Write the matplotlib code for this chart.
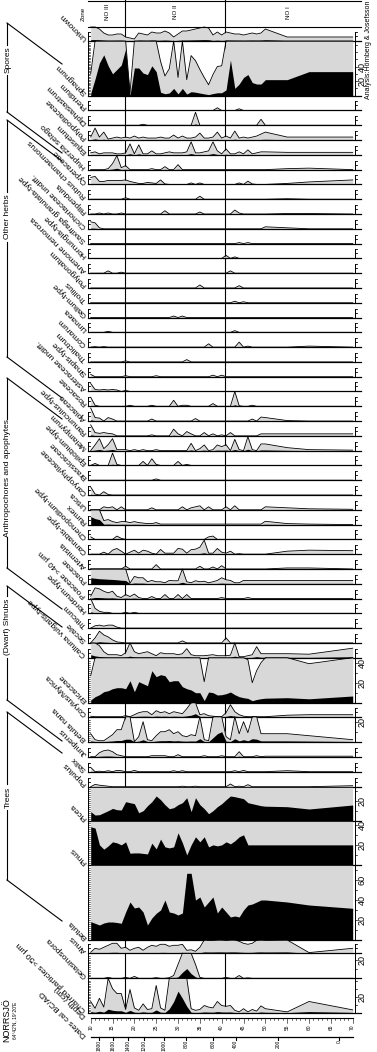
import numpy as np
import matplotlib.pyplot as plt
from matplotlib.lines import Line2D

plt.rcParams['font.family'] = ['Liberation Sans', 'DejaVu Sans']

W, H = 377, 1052
X0, X1 = 90.7, 352.7  # depth 10 .. 70

depths = [10, 11, 12, 13, 14, 15, 16, 17, 18, 19, 20, 21, 22, 23, 24, 25, 26, 27, 28, 29,
          30, 31, 32, 33, 34, 35, 36, 37, 38, 39, 40, 41, 42, 43, 44, 45, 46, 47, 48, 49,
          50, 55, 60, 70]

unknown = [1.4, 1.4, 1.2, 0.8, 0.6, 0.6, 0.7, 0.7, 0.4, 0.3, 0.2, 0.8, 0.7, 0.6, 0.9, 0.8, 0.8, 1.0, 0.8, 0.4,
           0.7, 1.0, 1.0, 1.1, 1.2, 1.3, 1.4, 1.3, 0.6, 0.9, 0.6, 0.9, 0.8, 0.7, 0.7, 0.6, 0.7, 0.8, 0.7, 0.8,
           1.2, 0.4, 0.4, 0.4]
sphagnum = [3, 23, 45, 56, 41, 30, 36, 42, 64, 0.4, 38, 38, 31, 29, 41, 33, 4.7, 2.7, 3.7, 10,
            2.5, 10, 2.2, 5.5, 4.8, 3.6, 2.5, 1.5, 2.9, 4.0, 4.1, 8, 49, 10, 16, 25, 29, 18, 16, 16,
            22, 22, 33, 33]

# sparse taxa: {depth: percent}
pteridium = {39: 0.27, 44: 0.17}
diphasiastrum = {22: 0.1, 34: 1.3, 49: 0.6}
polypodiaceae = {10: 0.3, 11: 1.2, 12: 0.3, 13: 0.8, 14: 0.1, 15: 0.2, 16: 0.3, 17: 0.2, 18: 0.3, 19: 0.2,
                 20: 0.4, 21: 0.2, 22: 0.3, 23: 0.2, 24: 0.2, 25: 0.2, 26: 0.3, 27: 0.2, 28: 0.2, 29: 0.5,
                 30: 0.2, 31: 0.4, 32: 0.2, 33: 0.2, 34: 0.3, 35: 0.7, 36: 0.2, 37: 0.2, 38: 0.3, 39: 0.8,
                 40: 0.2, 41: 0.4, 42: 0.2, 43: 0.9, 44: 0.2, 45: 0.3, 46: 0.2, 47: 0.3, 48: 0.4, 49: 0.6,
                 50: 0.8, 55: 0.3, 60: 0.3, 70: 0.3}
equisetum = {10: 0.2, 11: 0.3, 12: 0.1, 13: 0.2, 14: 0.2, 15: 0.2, 16: 0.1, 17: 0.1, 18: 0.2, 19: 1.1,
             20: 0.1, 21: 1.0, 22: 0.1, 23: 0.1, 24: 0.4, 25: 0.1, 26: 0.1, 27: 0.2, 28: 0.3, 29: 0.2,
             30: 0.2, 31: 0.2, 32: 0.3, 33: 1.3, 34: 0.2, 35: 0.2, 36: 0.3, 37: 0.4, 38: 1.3, 39: 0.4,
             40: 0.1, 41: 0.6, 42: 0.1, 43: 0.1, 44: 0.3, 45: 0.1, 46: 0.5, 47: 0.1, 48: 0.2, 49: 0.3,
             50: 0.3, 55: 0.25, 60: 0.25, 70: 0.25}
huperzia = {14: 0.1, 15: 0.6, 16: 1.4, 17: 0.2, 18: 0.4, 24: 0.1, 27: 0.3, 30: 0.5, 55: 0.1, 60: 0.15}
cyperaceae = {10: 0.7, 11: 0.8, 12: 0.3, 13: 0.3, 14: 0.4, 15: 0.4, 16: 0.4, 17: 0.4, 18: 0.45, 19: 0.3,
              20: 0.2, 21: 0.1, 22: 0.1, 23: 0.2, 24: 0.15, 25: 0.1, 26: 0.45, 27: 0.05, 33: 0.15, 35: 0.15,
              44: 0.15, 46: 0.33, 47: 0.05, 55: 0.1, 60: 0.25, 70: 0.45}
rubus = {18: 0.15, 35: 0.3, 55: 0.05}
filipendula = {12: 0.1, 14: 0.1, 17: 0.1, 27: 0.33, 35: 0.2, 43: 0.4, 44: 0.1, 55: 0.05, 60: 0.05}
cichoriaceae = {10: 0.7, 11: 0.6, 12: 0.1, 50: 0.2, 55: 0.1}
saxifraga = {44: 0.1, 46: 0.1}
hornungia = {41: 0.3, 43: 0.15}
anemone = {14: 0.23, 17: 0.1, 42: 0.23}
polygonatum = {35: 0.3, 44: 0.23}
trollius = {43: 0.15, 45: 0.1}
galium = {29: 0.15, 31: 0.15}
linnaea = {14: 0.1, 43: 0.17}
comarum = {11: 0.05, 13: 0.05, 37: 0.33, 44: 0.5, 46: 0.1, 60: 0.1}
thalictrum = {18: 0.1, 32: 0.23}
sinapis = {10: 0.23, 18: 0.1, 25: 0.1, 38: 0.15, 40: 0.15}
asteraceae = {10: 0.8, 11: 0.2, 12: 0.15, 13: 0.2, 14: 0.15, 15: 0.2, 16: 0.15, 18: 0.1}
rosaceae = {10: 0.9, 11: 0.1, 19: 0.1, 24: 0.1, 29: 0.6, 31: 0.1, 32: 0.1, 38: 0.27, 43: 1.5, 44: 0.05, 47: 0.1}
apiaceae = {10: 1.3, 11: 0.35, 12: 0.3, 14: 0.35, 15: 0.2, 24: 0.2, 34: 0.25, 47: 0.2, 49: 0.4, 50: 0.35, 55: 0.05}
ranunculus = {10: 1.1, 11: 0.33, 12: 0.25, 13: 0.33, 14: 0.25, 15: 0.2, 24: 0.1, 29: 0.67, 30: 0.2, 32: 0.43,
              33: 0.2, 36: 0.33, 38: 0.2, 40: 0.1, 42: 0.33, 49: 0.2, 50: 0.2, 55: 0.2, 60: 0.2, 70: 0.2}
melampyrum = {11: 0.57, 12: 1.2, 13: 0.2, 14: 0.6, 15: 1.2, 16: 0.1, 17: 0.1, 18: 0.1, 20: 0.1, 22: 0.1,
              25: 0.1, 33: 0.73, 35: 0.2, 36: 0.57, 38: 0.1, 39: 0.57, 40: 0.4, 41: 0.6, 43: 1.13, 44: 0.1,
              46: 1.4, 47: 0.1, 49: 0.67, 50: 0.67, 55: 0.3, 60: 0.1, 70: 0.05}
epilobium = {11: 0.2, 15: 1.23, 16: 0.1, 22: 0.4, 24: 0.67, 25: 0.1, 30: 0.4, 32: 0.1}
brassicaceae = {25: 0.13}
caryophyllaceae = {10: 0.8, 11: 0.1, 13: 0.33, 14: 0.05}
urtica = {13: 0.3, 14: 0.2, 15: 0.3, 17: 0.3, 24: 0.2, 31: 0.3, 33: 0.2, 34: 0.3, 35: 0.4, 37: 0.3,
          41: 0.3, 43: 0.4, 50: 0.3, 55: 0.2, 60: 0.1, 70: 0.05}
rumex = [8, 6, 5, 0.4, 0.5, 0.3, 0.2, 0.3, 0.3, 0.2, 0.3, 0.2, 0.15, 0.1, 0.1, 0.2, 0.05, 0.05, 0.05, 0.05,
         0.05, 0.05, 0.05, 0.05, 0.05, 0.05, 0.05, 0.05, 0.05, 0.05, 0.05, 0.05, 0.05, 0.05, 0.05, 0.05,
         0.05, 0.05, 0.05, 0.05, 0.33, 0.1, 0.05, 0.0]
chenopodium = {10: 0.25, 16: 0.33, 17: 0.1, 37: 0.25, 38: 0.33}
cannabis = {13: 0.2, 15: 0.4, 16: 0.57, 17: 0.3, 19: 0.2, 20: 0.4, 21: 0.1, 22: 0.4, 23: 0.3, 24: 0.1,
            26: 0.47, 27: 0.1, 28: 0.1, 29: 0.1, 30: 0.57, 31: 0.5, 32: 0.1, 33: 0.45, 34: 0.5, 35: 0.7,
            36: 1.4, 37: 0.1, 38: 0.1, 39: 0.57, 40: 0.2, 41: 0.1, 42: 0.3, 44: 0.05, 55: 0.3, 60: 0.4, 70: 0.35}
artemisia = {18: 0.27, 25: 0.43, 35: 0.27, 38: 0.2, 40: 0.33, 55: 0.1, 60: 0.1}
poaceae = [6, 5.5, 5, 4.8, 4.5, 4.3, 4.0, 3.5, 3.3, 0.05, 0.73, 0.6, 0.6, 0.2, 0.33, 0.2, 0.2, 0.1, 0.33, 0.3,
           0.3, 1.5, 0.2, 0.1, 0.3, 0.2, 0.25, 0.1, 0.2, 0.33, 0.6, 0.4, 0.33, 0.1, 0.1, 0.33, 0.33, 0.33,
           0.33, 0.33, 0.33, 0.33, 0.33, 0.33]
poaceae40 = {10: 0.23, 11: 1.07, 12: 0.97, 13: 0.73, 14: 0.57, 15: 0.73, 16: 0.23, 17: 0.1, 18: 0.4, 19: 0.2,
             20: 0.45, 21: 0.1, 24: 0.2, 27: 0.4, 30: 0.4, 32: 0.4, 40: 0.1, 46: 0.1}
hordeum = {10: 1.5, 11: 0.5, 12: 0.2, 13: 0.1, 14: 0.1, 18: 0.1, 20: 0.1}
triticum = {11: 0.23, 12: 0.3, 13: 0.2, 14: 0.3, 15: 0.3, 16: 0.1}
secale = {11: 0.5, 12: 1.17, 13: 0.8, 14: 0.6, 15: 0.3, 16: 0.1, 17: 0.05, 31: 0.2, 41: 0.5}
calluna = [3, 1.8, 1.2, 0.6, 0.3, 0.3, 0.3, 0.2, 0.5, 1.6, 0.6, 0.4, 0.5, 0.6, 0.4, 0.2, 0.5, 0.4, 0.4, 0.4,
           0.3, 0.4, 0.9, 0.3, 0.2, 0.2, 0.2, 0.25, 0.3, 0.2, 0.2, 0.2, 0.25, 1.6, 0.1, 0.1, 0.2, 0.3, 1.1, 0.4,
           0.4, 0.4, 0.35, 0.95]
ericaceae = [2.7, 6, 8, 11, 12, 14, 15, 15, 14, 22, 11, 21, 19, 17, 32, 26, 28, 27, 21, 22,
             22, 16, 14, 12.7, 10, 10, 2.1, 10.7, 10, 7.7, 8, 9, 10.7, 8, 6, 5, 4.3, 2.0, 3.2, 4,
             4.5, 5, 3.9, 6.7]
corylus = {10: 0.05, 18: 0.1, 20: 0.2, 21: 0.4, 22: 0.5, 23: 0.5, 24: 0.2, 25: 0.6, 26: 0.4, 27: 0.5, 28: 0.3,
           29: 0.5, 30: 0.4, 31: 0.3, 32: 0.8, 33: 1.5, 34: 3, 35: 0.2, 36: 0.3, 37: 0.1, 38: 0.05, 41: 0.4,
           42: 1.2, 43: 0.5, 44: 0.2, 45: 0.05, 55: 0.15, 60: 0.2, 70: 0.2}
betula_nana = [0.8, 0.2, 0.1, 0.1, 0.4, 0.7, 1.2, 1.2, 2.5, 2.5, 0, 0.5, 2.0, 0.2, 0.1, 0.6, 1.0, 1.0, 1.2, 0.8,
               1.0, 0.6, 0.5, 0.7, 0.6, 3, 0.2, 0.1, 4, 8, 10, 0.5, 0.2, 3, 0.8, 2.0, 0.9, 3, 2.5, 0.8,
               0.8, 0.8, 0.6, 0.2]
juniperus = {12: 0.4, 13: 0.6, 14: 0.67, 15: 0.5, 16: 0.2, 17: 0.1, 24: 0.1, 25: 0.1, 26: 0.1, 27: 0.1,
             30: 0.2, 36: 0.1, 40: 0.1, 44: 0.5, 48: 0.1, 50: 0.05, 55: 0.05, 60: 0.05, 70: 0.05}
salix = {10: 0.43, 12: 0.05, 14: 0.1, 16: 0.13, 17: 0.1, 20: 0.13, 29: 0.1, 31: 0.1, 43: 0.1, 45: 0.13, 55: 0.1}
populus = {11: 0.23, 12: 0.15, 13: 0.1, 14: 0.05, 31: 0.05, 34: 0.05, 42: 0.27, 44: 0.05, 46: 0.2, 70: 0.1}
picea = [9, 5.7, 6, 8, 10, 12.3, 11, 10.7, 19, 18, 17, 8, 10, 15, 19, 24.7, 21, 16, 12, 13,
         16, 18, 23, 9, 23, 16, 12, 7, 10, 14, 17, 21, 24.7, 24, 23, 22, 18, 17, 16, 15,
         14.5, 14, 11.7, 15.7]
pinus = [38, 36.7, 20, 15.7, 19, 23, 22, 20, 23, 11.7, 12, 12, 11.5, 11, 21.7, 16, 25.7, 18, 17, 18,
         32, 22, 10, 20, 28, 23, 28, 18, 20, 19, 20, 23, 21, 24, 28, 30, 20, 20, 20, 20,
         20, 20, 20, 20]
betula = [18.3, 16.7, 15, 17, 18, 18, 17.5, 16.7, 28, 38, 32, 33, 28, 15, 22, 26.7, 30, 40, 28, 27,
          25, 27, 66.7, 66.7, 40, 43, 33, 38, 43, 27, 33, 28, 23, 24, 23, 30, 35, 36, 38, 40,
          40, 38, 35, 31.7]
alnus = [0.1, 0.5, 0.4, 0.6, 0.8, 1.0, 1.0, 0.5, 0.6, 0.3, 0.5, 0.6, 0.3, 0.6, 0.8, 0.7, 0.9, 0.9, 0.7, 0.8,
         0.8, 0.9, 0.3, 0.35, 0.2, 0.6, 1.4, 1.3, 1.3, 1.4, 1.4, 1.3, 1.4, 1.4, 1.2, 1.0, 0.9, 1.0, 1.3, 1.4,
         1.3, 1.4, 0.07, 0.5]
gelasinospora = {14: 0.1, 18: 0.1, 20: 0.2, 25: 0.07, 28: 0.07, 29: 0.3, 30: 1.5, 31: 6.5, 32: 10.5, 33: 5,
                 34: 1.5, 35: 0.1, 41: 0.1, 44: 0.3, 46: 0.05}
charred = [1.4, 0.55, 1.8, 0.7, 4.4, 3.0, 2.4, 2.4, 0.4, 2.9, 0.6, 0.3, 1.1, 0.4, 0.5, 3.4, 0.6, 0.3, 5.0, 14,
           27, 18, 8, 0.5, 0.3, 0.4, 0.9, 0.7, 0.6, 1.4, 0.9, 0.8, 0.9, 0.3, 0.1, 0.5, 0.1, 0.4, 0.2, 0.85,
           0.5, 0.1, 1.4, 0.35]

date_labels = ['1800', '1600', '1400', '1200', '1000', '800', '600', '400', '200', '0']
date_depths = [12.0, 15.2, 18.6, 22.2, 26.9, 31.8, 38.1, 43.2, 52.9, 66.9]
zone_bounds = [17.9, 40.8]
zone_names = ['NO III', 'NO II', 'NO I']

small_names = ['Pteridium', 'Diphasiastrum', 'Polypodiaceae', 'Equisetum', 'Huperzia selago', 'Cyperaceae',
               'Rubus chamaemorus', 'Filipendula', 'Cichoriaceae undiff.', 'Saxifraga granulata-type',
               'Hornungia-type', 'Anemone nemorosa', 'Polygonatum', 'Trollius', 'Galium-type', 'Linnaea',
               'Comarum', 'Thalictrum', 'Sinapis-type', 'Asteraceae undiff.', 'Rosaceae', 'Apiaceae',
               'Ranunculus-type', 'Melampyrum', 'Epilobium-type', 'Brassicaceae', 'Caryophyllaceae',
               'Urtica', 'Rumex', 'Chenopodium-type', 'Cannabis-type', 'Artemisia', 'Poaceae',
               'Poaceae >40 µm', 'Hordeum-type', 'Triticum', 'Secale', 'Calluna vulgaris-type']
small_data = [pteridium, diphasiastrum, polypodiaceae, equisetum, huperzia, cyperaceae, rubus, filipendula,
              cichoriaceae, saxifraga, hornungia, anemone, polygonatum, trollius, galium, linnaea, comarum,
              thalictrum, sinapis, asteraceae, rosaceae, apiaceae, ranunculus, melampyrum, epilobium,
              brassicaceae, caryophyllaceae, urtica, rumex, chenopodium, cannabis, artemisia, poaceae,
              poaceae40, hordeum, triticum, secale, calluna]

group_names = ['Spores', 'Other herbs', 'Anthropochores and apophytes', '(Dwarf) Shrubs', 'Trees']
group_spans = [(23, 112), (120, 357), (378, 568), (586, 700), (712, 880)]
group_centres = [60, 217, 478, 627, 797]


def as_array(d):
    if isinstance(d, dict):
        return np.array([d.get(x, 0.0) for x in depths])
    return np.array(d, dtype=float)


fig = plt.figure(figsize=(W / 100, H / 100), dpi=100)
fig.patch.set_facecolor('white')


def fline(xs, ys, lw=0.8):
    fig.add_artist(Line2D([x / W for x in xs], [1 - y / H for y in ys], color='k', lw=lw))


def ftext(x, y, s, **kw):
    fig.text(x / W, 1 - y / H, s, **kw)


def panel(top, bot, vals, vmax, label, ticks=None, exag=10):
    ax = fig.add_axes([X0 / W, 1 - bot / H, (X1 - X0) / W, (bot - top) / H])
    ax.set_xlim(10, 70)
    ax.set_ylim(0, vmax)
    ax.axis('off')
    v = as_array(vals)
    g = np.minimum(v * exag, vmax)
    for zb in zone_bounds:
        ax.axvline(zb, color='k', lw=0.8, zorder=1)
    ax.fill_between(depths, 0, g, color='#d8d8d8', lw=0, zorder=2)
    ax.plot(depths, g, color='k', lw=0.6, zorder=3, clip_on=False)
    ax.fill_between(depths, 0, np.minimum(v, vmax), color='k', lw=0, zorder=4)
    tr = ax.get_yaxis_transform()
    ax.plot([-0.012, 1.032], [0, 0], color='k', lw=0.9, transform=tr, clip_on=False, zorder=5)
    ph = bot - top
    pxu = ph / vmax
    if ticks is None:
        # small "F" marks
        for xf in (-0.01, 1.007):
            ax.plot([xf, xf], [1 / pxu, 9 / pxu], color='k', lw=0.7, transform=tr, clip_on=False, zorder=5)
            for yy in (9, 5):
                ax.plot([xf, xf + 0.008], [yy / pxu, yy / pxu], color='k', lw=0.6, transform=tr,
                        clip_on=False, zorder=5)
    else:
        top_v = vmax - 1 / pxu
        for xf in (-0.01, 1.007):
            ax.plot([xf, xf], [0, top_v], color='k', lw=0.7, transform=tr, clip_on=False, zorder=5)
        for yy in np.arange(2, top_v, 2):
            ax.plot([-0.01, -0.003], [yy, yy], color='k', lw=0.4, transform=tr, clip_on=False, zorder=5)
        for yy in np.arange(10, top_v, 10):
            ax.plot([1.007, 1.017], [yy, yy], color='k', lw=0.5, transform=tr, clip_on=False, zorder=5)
        for t in ticks:
            ax.text(1.035, t, str(t), transform=tr, rotation=90, ha='center', va='center', fontsize=6.5)
    ftext(86, bot - 2, label, rotation=135, rotation_mode='anchor', ha='left', va='center', fontsize=6)
    return ax


# zone row
zax = fig.add_axes([X0 / W, 1 - 27 / H, (X1 - X0) / W, 27 / H])
zax.set_xlim(10, 70)
zax.set_ylim(0, 1)
zax.axis('off')
for zb in zone_bounds:
    zax.axvline(zb, color='k', lw=0.8)
zone_edges = [10] + zone_bounds + [70]
for i, nm in enumerate(zone_names):
    zax.text((zone_edges[i] + zone_edges[i + 1]) / 2, 0.55, nm, rotation=90, ha='center', va='center', fontsize=4.5)
fline([88, 361], [0.5, 0.5])
fline([88, 361], [27, 27])
ftext(83, 14, 'Zone', rotation=90, ha='center', va='center', fontsize=4.5)

panel(27, 41, unknown, 14, 'Unknown')
panel(41, 95.7, sphagnum, 75, 'Sphagnum', ticks=[20, 40])
step = (657.7 - 95.7) / len(small_names)
for i, (nm, dd) in enumerate(zip(small_names, small_data)):
    t = 95.7 + i * step
    panel(t, t + step, dd, step, nm)
panel(657.7, 702.7, ericaceae, 45, 'Ericaceae', ticks=[20, 40])
panel(702.7, 716.7, corylus, 14, 'Corylus/Myrica')
panel(716.7, 741.7, betula_nana, 25, 'Betula nana', ticks=[20])
panel(741.7, 756.7, juniperus, 15, 'Juniperus')
panel(756.7, 771.7, salix, 15, 'Salix')
panel(771.7, 786.7, populus, 15, 'Populus')
panel(786.7, 820.7, picea, 34, 'Picea', ticks=[20])
panel(820.7, 865, pinus, 44, 'Pinus', ticks=[20, 40])
panel(865, 940, betula, 75, 'Betula', ticks=[20, 40, 60])
panel(940, 953.3, alnus, 13.3, 'Alnus')
panel(953.3, 978.3, gelasinospora, 27, 'Gelasinospora', ticks=[20])
panel(978.3, 1012.7, charred, 43, 'Charred particles >50 µm', ticks=[20])

# depth axis
dax = fig.add_axes([X0 / W, 1 - 1030 / H, (X1 - X0) / W, 12 / H])
dax.set_xlim(10, 70)
dax.set_ylim(0, 1)
dax.axis('off')
dax.plot([10, 70], [1, 1], color='k', lw=0.8, clip_on=False)
for d in range(10, 71):
    dax.plot([d, d], [1, 0.8 if d % 5 else 0.6], color='k', lw=0.4, clip_on=False)
for d in range(10, 71, 5):
    dax.text(d, 0.45, str(d), rotation=90, ha='center', va='top', fontsize=3.5)
ftext(86, 1016, 'Depth (cm)', rotation=135, rotation_mode='anchor', ha='left', va='center', fontsize=6)

# dates axis
tax = fig.add_axes([X0 / W, 1 - 1052 / H, (X1 - X0) / W, 16 / H])
tax.set_xlim(10, 70)
tax.set_ylim(0, 16)
tax.axis('off')
tax.plot([10, 70], [15, 15], color='k', lw=0.9, clip_on=False)
for d, lab in zip(date_depths, date_labels):
    tax.plot([d, d], [15, 12.5], color='k', lw=0.8)
    tax.text(d, 12, lab, rotation=90, ha='center', va='top', fontsize=3.5)
ftext(86, 1036, 'Dates cal BC/AD', rotation=135, rotation_mode='anchor', ha='left', va='center', fontsize=6)

# right side credits and site
ftext(369, 50, 'Analysis:Hörnberg & Josefsson', rotation=90, ha='center', va='center', fontsize=5)
ftext(7, 1020, 'NORRSJÖ', rotation=90, ha='center', va='center', fontsize=6.5)
ftext(15, 1020, "64°42'N, 19°20'E", rotation=90, ha='center', va='center', fontsize=3.5)

# group brackets
for name, (y0, y1), yc in zip(group_names, group_spans, group_centres):
    half = len(name) * 2.0 + 3
    fline([7, 7], [y0, yc - half])
    fline([7, 7], [yc + half, y1])
    fline([7, 62], [y0, y0 + 41])
    fline([7, 62], [y1, y1 + 41])
    ftext(8, yc, name, rotation=90, ha='center', va='center', fontsize=6)

fig.savefig('out.png', dpi=100)
